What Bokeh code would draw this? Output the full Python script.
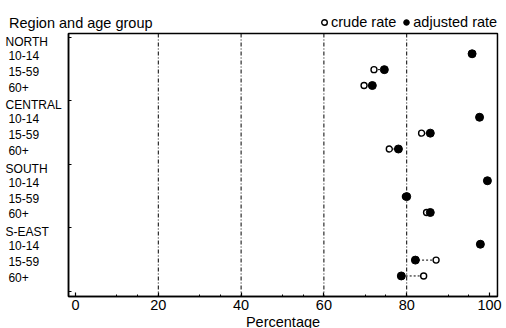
from bokeh.plotting import figure
from bokeh.models import (Range1d, FixedTicker, Legend, LegendItem,
                          ColumnDataSource, LinearAxis)
from bokeh.embed import file_html
from bokeh.resources import INLINE

# ---- data ----
regions = ["NORTH", "CENTRAL", "SOUTH", "S-EAST"]
age_groups = ["10-14", "15-59", "60+"]
crude_rate = [95.8, 72.1, 69.7,
              97.6, 83.6, 75.8,
              99.5, 79.7, 84.8,
              97.8, 87.1, 84.1]
adjusted_rate = [95.8, 74.6, 71.7,
                 97.6, 85.7, 78.0,
                 99.5, 80.0, 85.7,
                 97.8, 82.1, 78.7]
x_ticks = [0, 20, 40, 60, 80, 100]
x_minor_ticks = [10, 15, 30, 35, 50, 55, 70, 75, 90, 95]
grid_values = [20, 40, 60, 80]
left_ticks = [-0.05, 3.95, 7.95, 11.95, 15.95]

# ---- layout constants (data units of the plot box) ----
X0, X1 = -1.69, 101.93      # plot box left / right
Y0, Y1 = -0.277, 16.29      # plot box top / bottom (row units)
HEADER_X = -16.9
AGE_X = -16.2
TITLE_X = -16.06
TITLE_Y = -0.97

FONT = "Liberation Sans"

rows, row_names = [], []
for r in range(len(regions)):
    for a in range(len(age_groups)):
        rows.append(r * (len(age_groups) + 1) + 1 + a)
        row_names.append(age_groups[a])
header_rows = [r * (len(age_groups) + 1) for r in range(len(regions))]

src = ColumnDataSource(dict(y=rows, crude=crude_rate, adj=adjusted_rate))

p = figure(width=506, height=328, output_backend="svg", toolbar_location=None,
           x_range=Range1d(-18.12, 104.11), y_range=Range1d(18.31, -2.357),
           x_axis_location=None, y_axis_location=None,
           min_border_left=0, min_border_right=0, min_border_top=0,
           min_border_bottom=0)
p.background_fill_color = "white"
p.border_fill_color = "white"
p.outline_line_color = None
p.grid.visible = False

# grid lines (dash-dot) inside the box
p.segment(x0=grid_values, x1=grid_values, y0=Y0, y1=Y1,
          line_color="black", line_width=1, line_dash="4 2 1 2")

# box
p.quad(left=X0, right=X1, top=Y0, bottom=Y1, fill_color=None,
       line_color="black", line_width=1.5)

# x axis
xa = LinearAxis(fixed_location=Y1, bounds=(X0, X1))
xa.ticker = FixedTicker(ticks=x_ticks, minor_ticks=x_minor_ticks)
xa.major_tick_in = 4
xa.major_tick_out = 0
xa.minor_tick_in = 2
xa.minor_tick_out = 0
xa.axis_line_width = 1.5
xa.major_tick_line_width = 1.2
xa.minor_tick_line_width = 1
xa.major_label_standoff = 4
xa.major_label_text_font = FONT
xa.major_label_text_font_size = "14.5px"
xa.major_label_text_color = "black"
xa.axis_label = "Percentage"
xa.axis_label_standoff = 0
xa.axis_label_text_font = FONT
xa.axis_label_text_font_size = "14.5px"
xa.axis_label_text_font_style = "normal"
xa.axis_label_text_color = "black"
p.add_layout(xa, "below")

# y axis (ticks only)
ya = LinearAxis(fixed_location=X0, bounds=(Y0, Y1))
ya.ticker = FixedTicker(ticks=left_ticks, minor_ticks=[])
ya.major_label_overrides = {t: "" for t in left_ticks}
ya.major_tick_in = 3
ya.major_tick_out = 0
ya.minor_tick_in = 0
ya.minor_tick_out = 0
ya.axis_line_width = 1.5
p.add_layout(ya, "left")

# data
p.segment(x0="crude", x1="adj", y0="y", y1="y", source=src,
          line_color="black", line_width=1, line_dash="2 2")
cr = p.scatter("crude", "y", source=src, marker="circle", size=6,
               fill_color="white", line_color="black", line_width=1.4)
ar = p.scatter("adj", "y", source=src, marker="circle", size=8,
               fill_color="black", line_color="black")

# legend at top right
legend = Legend(items=[LegendItem(label="crude rate", renderers=[cr]),
                       LegendItem(label="adjusted rate", renderers=[ar])],
                location=(317, 298), orientation="horizontal",
                glyph_width=14, glyph_height=14, label_height=14,
                label_standoff=-4, spacing=3, padding=0, margin=0,
                border_line_color=None, background_fill_color=None,
                background_fill_alpha=0,
                label_text_font=FONT, label_text_font_size="14.5px",
                label_text_color="black")
p.add_layout(legend)

# title at top left
p.text(x=[TITLE_X], y=[TITLE_Y], text=["Region and age group"],
       text_font={"value": FONT}, text_font_size={"value": "14.5px"},
       text_baseline="middle", text_color="black")

# row labels
p.text(x=[HEADER_X] * len(regions), y=header_rows, text=regions,
       y_offset=4, text_font={"value": FONT}, text_font_size={"value": "12px"},
       text_baseline="middle", text_color="black")
p.text(x=[AGE_X] * len(rows), y=rows, text=row_names,
       y_offset=1.5, text_font={"value": FONT}, text_font_size={"value": "12px"},
       text_baseline="middle", text_color="black")

open("out.html", "w").write(file_html(p, INLINE))
